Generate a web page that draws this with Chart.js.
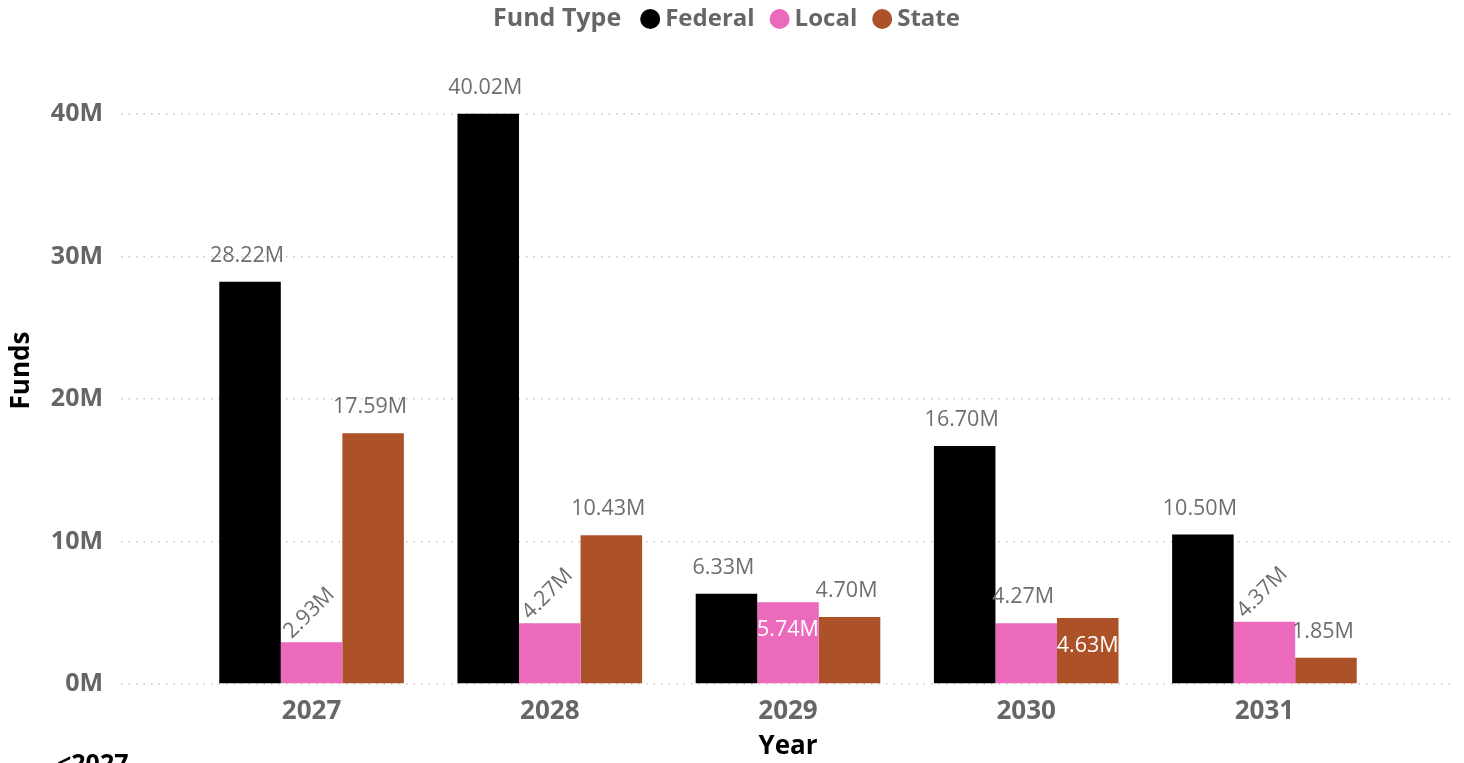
<!DOCTYPE html>
<html>
<head>
<meta charset="utf-8">
<title>Funds by Year</title>
<script src="https://cdn.jsdelivr.net/npm/chart.js@4.4.0/dist/chart.umd.min.js"></script>
<style>
  html, body { margin: 0; padding: 0; background: #ffffff; }
  #wrap { position: relative; width: 1464px; height: 763px; }
</style>
</head>
<body>
<div id="wrap"><canvas id="fundsChart"></canvas></div>
<script>
// Funds per year, split by fund type
var years = ['2027', '2028', '2029', '2030', '2031'];
var federal = [28220000, 40020000, 6330000, 16700000, 10500000];
var local = [2930000, 4270000, 5740000, 4270000, 4370000];
var state = [17590000, 10430000, 4700000, 4630000, 1850000];
var yTickValues = [0, 10000000, 20000000, 30000000, 40000000];
var seriesNames = ['Federal', 'Local', 'State'];
var seriesColors = ['#000000', '#EB6ABC', '#AD5129'];

// where each value label sits: above the bar, tilted above it, or inside the top
var labelPlacement = [
    ['top', 'top', 'top', 'top', 'top'],
    ['tilt', 'tilt', 'inside', 'top', 'tilt'],
    ['top', 'top', 'top', 'inside', 'top']
];

var FONT = '"Open Sans", "Noto Sans", sans-serif';
Chart.defaults.font.family = FONT;

function fmtMillions(v) {
    return (v / 1000000).toFixed(2) + 'M';
}

function points(arr) {
    return arr.map(function (v, i) { return { x: i, y: v }; });
}

var valueLabels = {
    id: 'valueLabels',
    afterDatasetsDraw: function (chart) {
        var ctx = chart.ctx;
        ctx.save();
        ctx.font = '21.5px ' + FONT;
        chart.data.datasets.forEach(function (ds, di) {
            var meta = chart.getDatasetMeta(di);
            meta.data.forEach(function (bar, i) {
                var text = fmtMillions(ds.data[i].y);
                var mode = labelPlacement[di][i];
                if (mode === 'inside') {
                    ctx.fillStyle = '#ffffff';
                    ctx.textAlign = 'center';
                    ctx.textBaseline = 'middle';
                    ctx.fillText(text, bar.x, bar.y + 28);
                } else if (mode === 'tilt') {
                    ctx.save();
                    ctx.translate(bar.x - bar.width / 2 + 11, bar.y - 3);
                    ctx.rotate(-Math.PI / 4);
                    ctx.fillStyle = '#6E6E6E';
                    ctx.textAlign = 'left';
                    ctx.textBaseline = 'alphabetic';
                    ctx.fillText(text, 0, 0);
                    ctx.restore();
                } else {
                    ctx.fillStyle = '#6E6E6E';
                    ctx.textAlign = 'center';
                    ctx.textBaseline = 'middle';
                    ctx.fillText(text, bar.x - 3, bar.y - 26);
                }
            });
        });
        ctx.restore();
    }
};

// legend row across the top, plus the slicer caption at the bottom left
var fundLegend = {
    id: 'fundLegend',
    afterDraw: function (chart) {
        var ctx = chart.ctx;
        ctx.save();
        ctx.font = 'bold 25px ' + FONT;
        ctx.textBaseline = 'middle';
        ctx.textAlign = 'left';
        var x = 493, y = 19;
        ctx.fillStyle = '#666666';
        ctx.fillText('Fund Type', x, y);
        x += ctx.measureText('Fund Type').width + 19;
        ctx.font = 'bold 24px ' + FONT;
        seriesNames.forEach(function (name, i) {
            ctx.beginPath();
            ctx.arc(x + 10, y, 10, 0, Math.PI * 2);
            ctx.fillStyle = seriesColors[i];
            ctx.fill();
            x += 25;
            ctx.fillStyle = '#666666';
            ctx.fillText(name, x, y);
            x += ctx.measureText(name).width + 15;
        });
        ctx.fillStyle = '#000000';
        ctx.font = 'bold 25px ' + FONT;
        ctx.textBaseline = 'alphabetic';
        ctx.fillText('<2027', 57, 772);
        ctx.restore();
    }
};

var ctxFunds = document.getElementById('fundsChart').getContext('2d');
var fundsChart = new Chart(ctxFunds, {
    type: 'bar',
    data: {
        datasets: [
            { label: 'Federal', data: points(federal), backgroundColor: seriesColors[0] },
            { label: 'Local', data: points(local), backgroundColor: seriesColors[1] },
            { label: 'State', data: points(state), backgroundColor: seriesColors[2] }
        ]
    },
    options: {
        responsive: true,
        maintainAspectRatio: false,
        animation: false,
        categoryPercentage: 0.775,
        barPercentage: 1.0,
        layout: { padding: { top: 57, right: 9, bottom: 0, left: 0 } },
        plugins: {
            legend: { display: false },
            tooltip: { enabled: false }
        },
        scales: {
            x: {
                type: 'linear',
                min: -0.8,
                max: 4.8,
                offset: false,
                grid: { display: false },
                border: { display: false },
                afterBuildTicks: function (axis) {
                    axis.ticks = years.map(function (y, i) { return { value: i }; });
                },
                afterFit: function (axis) { axis.height = 79; },
                ticks: {
                    padding: 4,
                    color: '#666666',
                    font: { size: 26, weight: 'bold' },
                    callback: function (value) { return years[value]; }
                },
                title: {
                    display: true,
                    text: 'Year',
                    color: '#000000',
                    font: { size: 26, weight: 'bold' },
                    padding: { top: 0, bottom: 1 }
                }
            },
            y: {
                min: 0,
                max: 44000000,
                afterBuildTicks: function (axis) {
                    axis.ticks = yTickValues.map(function (v) { return { value: v }; });
                },
                afterFit: function (axis) { axis.width = 121; },
                grid: {
                    drawTicks: false,
                    color: '#C8C8C8',
                    lineWidth: 1.5
                },
                border: { display: false, dash: [1.5, 6] },
                ticks: {
                    padding: 18,
                    color: '#666666',
                    font: { size: 25, weight: 'bold' },
                    callback: function (value) { return (value / 1000000) + 'M'; }
                },
                title: {
                    display: true,
                    text: 'Funds',
                    color: '#000000',
                    font: { size: 26, weight: 'bold' },
                    padding: { top: 6, bottom: 0 }
                }
            }
        }
    },
    plugins: [valueLabels, fundLegend]
});
</script>
</body>
</html>
